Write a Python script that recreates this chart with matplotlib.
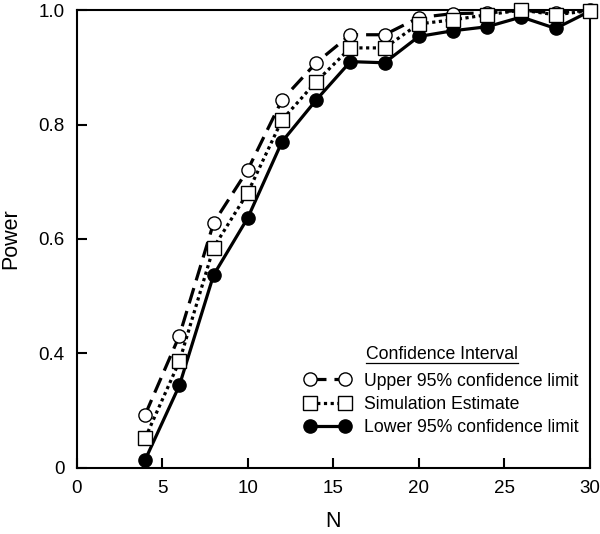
import matplotlib
matplotlib.use('Agg')
import matplotlib.pyplot as plt
from matplotlib import rcParams
from matplotlib.lines import Line2D

rcParams['font.family'] = ['Liberation Sans', 'DejaVu Sans']
rcParams['font.size'] = 13.5

# sample sizes and power estimates (axis runs 0.2..1.0, bottom labelled "0")
n = [4, 6, 8, 10, 12, 14, 16, 18, 20, 22, 24, 26, 28, 30]
upper = [0.293, 0.431, 0.628, 0.721, 0.843, 0.908, 0.957, 0.957, 0.987, 0.994, 0.995, 1.0, 0.995, 1.0]
sim = [0.252, 0.386, 0.585, 0.681, 0.808, 0.875, 0.934, 0.934, 0.976, 0.983, 0.992, 1.0, 0.992, 0.999]
lower = [0.214, 0.344, 0.537, 0.637, 0.770, 0.843, 0.910, 0.908, 0.954, 0.964, 0.971, 0.988, 0.968, 0.998]

yticks = [0.2, 0.4, 0.6, 0.8, 1.0]
ytick_labels = ['0', '0.4', '0.6', '0.8', '1.0']
xticks = [0, 5, 10, 15, 20, 25, 30]

fig = plt.figure(figsize=(6, 5.34), dpi=100)
ax = fig.add_axes([0.128, 0.124, 0.855, 0.857])

l_low, = ax.plot(n, lower, color='black', lw=2.3, marker='o', ms=9.5,
                 mfc='black', mec='black', label='Lower 95% confidence limit',
                 clip_on=False, zorder=3)
l_up, = ax.plot(n, upper, color='black', lw=2.3, ls=(0, (5, 2.5)), marker='o', ms=9.5,
                mfc='white', mec='black', mew=1.0, label='Upper 95% confidence limit',
                clip_on=False, zorder=4)
l_sim, = ax.plot(n, sim, color='black', lw=2.3, ls=(0, (1, 1.1)), marker='s', ms=9.5,
                 mfc='white', mec='black', mew=1.0, label='Simulation Estimate',
                 clip_on=False, zorder=5)

ax.set_xlim(0, 30)
ax.set_ylim(0.2, 1.0)
ax.set_xticks(xticks)
ax.set_yticks(yticks)
ax.set_yticklabels(ytick_labels)
ax.tick_params(direction='in', length=7, width=1.5, pad=9, top=False, right=False)
for s in ax.spines.values():
    s.set_linewidth(1.5)

ax.set_xlabel('N', fontsize=15.5, labelpad=10)
ax.set_ylabel('Power', fontsize=15.5, labelpad=12)

leg = ax.legend(handles=[l_up, l_sim, l_low], loc='lower right',
                bbox_to_anchor=(1.01, 0.035), frameon=False, fontsize=12.7,
                handlelength=2.6, handletextpad=0.8, labelspacing=0.35,
                numpoints=2, title='Confidence Interval', title_fontsize=12.7)
leg._legend_box.align = 'center'
leg._legend_box.sep = 7

fig.canvas.draw()
bb = leg.get_title().get_window_extent().transformed(fig.transFigure.inverted())
fig.add_artist(Line2D([bb.x0, bb.x1], [bb.y0 - 0.001, bb.y0 - 0.001],
                      transform=fig.transFigure, color='black', lw=0.9))

fig.savefig('out.png', dpi=100)
